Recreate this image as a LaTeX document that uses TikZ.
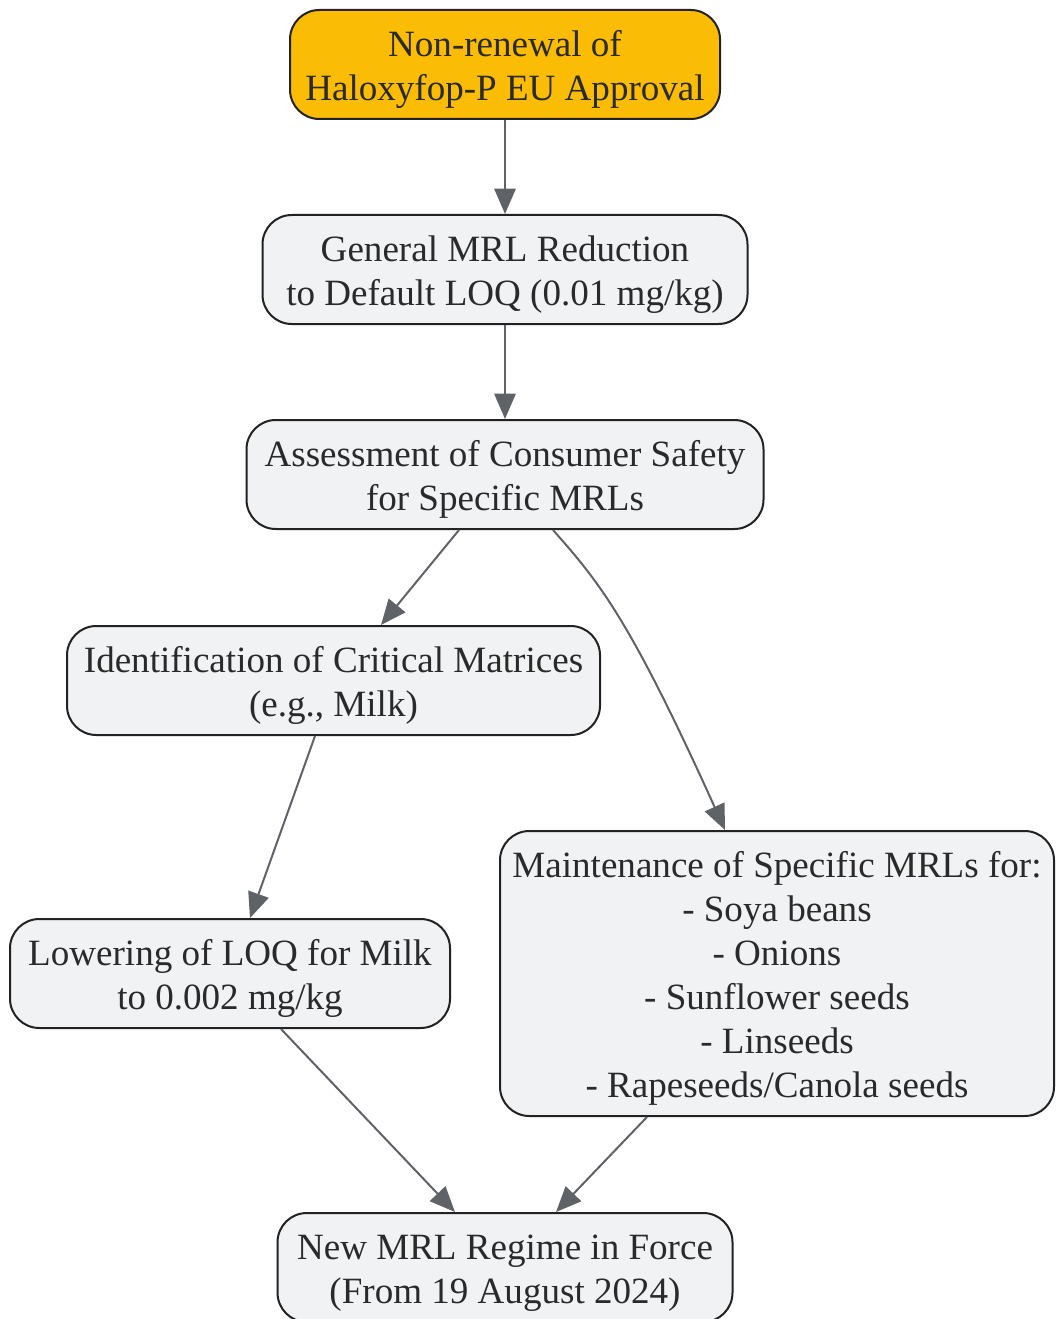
\documentclass[tikz,border=0pt]{standalone}
\usepackage{fontspec}
\setmainfont{Liberation Serif}
\usetikzlibrary{arrows.meta,calc}
\definecolor{amber}{HTML}{FBBC05}
\definecolor{nodefill}{HTML}{F1F2F4}
\definecolor{edgecol}{HTML}{5F6368}
\definecolor{bordercol}{HTML}{222222}
\definecolor{txtcol}{HTML}{2A2A2A}
\newcommand\mytopstrut{\rule{0pt}{27pt}}
\tikzset{
  box/.style={draw=bordercol, line width=1.5pt, fill=nodefill, rounded corners=22pt,
    align=center, text=txtcol, inner sep=0pt,
    font=\fontsize{27.8}{33}\selectfont},
  startbox/.style={box, fill=amber},
  flow/.style={draw=edgecol, line width=1.5pt, -{Triangle[length=19pt,width=16pt]}}
}
\begin{document}
\begin{tikzpicture}[x=0.75pt,y=-0.75pt]
\path[use as bounding box] (0,0) rectangle (1056,1319);
\node[startbox, minimum width=322.5pt, minimum height=81.75pt] (n1) at (505,64.5)
  {\mytopstrut Non-renewal of\\Haloxyfop-P EU Approval};
\node[box, minimum width=363.75pt, minimum height=81.75pt] (n2) at (505,269.5)
  {\mytopstrut General MRL Reduction\\to Default LOQ (0.01 mg/kg)};
\node[box, minimum width=387.75pt, minimum height=81.75pt] (n3) at (505,474.5)
  {\mytopstrut Assessment of Consumer Safety\\for Specific MRLs};
\node[box, minimum width=399.75pt, minimum height=81.75pt] (n4) at (333.5,680.5)
  {\mytopstrut Identification of Critical Matrices\\(e.g., Milk)};
\node[box, minimum width=330pt, minimum height=81.75pt] (n5) at (230,973.5)
  {\mytopstrut Lowering of LOQ for Milk\\to 0.002 mg/kg};
\node[box, minimum width=415.5pt, minimum height=213.75pt] (n6) at (777,973.5)
  {\mytopstrut Maintenance of Specific MRLs for:\\- Soya beans\\- Onions\\- Sunflower seeds\\- Linseeds\\- Rapeseeds/Canola seeds};
\node[box, minimum width=341.25pt, minimum height=81.75pt] (n7) at (505,1267.5)
  {\mytopstrut New MRL Regime in Force\\(From 19 August 2024)};
\draw[flow] (n1.south) -- (n2.north);
\draw[flow] (n2.south) -- (n3.north);
\draw[flow] ($(n3.south)+(-46,0)$) -- ($(n4.north)+(47.5,0)$);
\draw[flow] ($(n3.south)+(48,0)$) .. controls (600,583) and (630,620) .. ($(n6.north)+(-52,0)$);
\draw[flow] ($(n4.south)+(-18.5,0)$) -- ($(n5.north)+(20,0)$);
\draw[flow] ($(n5.south)+(51,0)$) -- ($(n7.north)+(-50,0)$);
\draw[flow] ($(n6.south)+(-130,0)$) -- ($(n7.north)+(51,0)$);
\end{tikzpicture}
\end{document}
